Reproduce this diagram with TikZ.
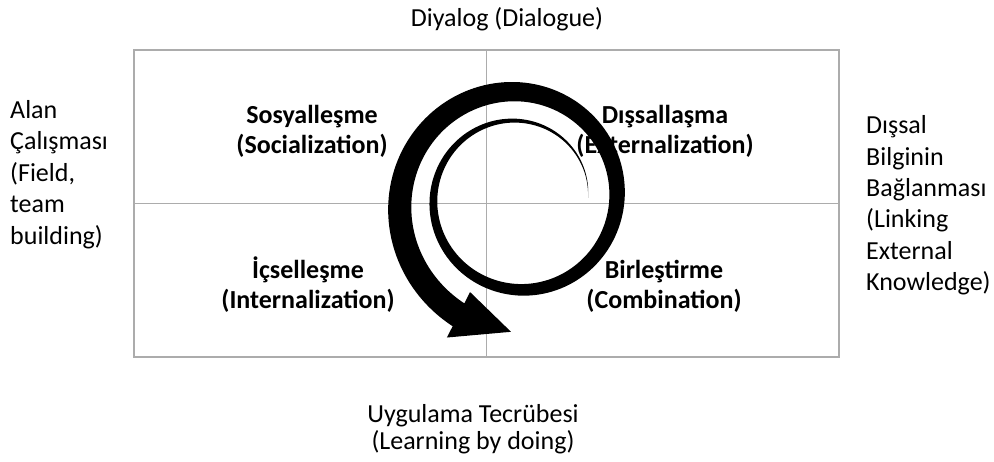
\documentclass[tikz,border=0pt]{standalone}
\usepackage{fontspec}
\setmainfont{Carlito}
\usetikzlibrary{positioning, calc}

\begin{document}
\begin{tikzpicture}[
  x=1pt, y=1pt,
  frame/.style={draw=gray!65, line width=1.6pt},
  side/.style={inner sep=0pt, align=left, font=\fontsize{26}{31.4}\selectfont},
  axis/.style={inner sep=0pt, align=center, font=\fontsize{26}{27}\selectfont},
  quad/.style={inner sep=0pt, align=center, font=\fontsize{26}{30}\selectfont\bfseries},
  swirl/.style={fill=black, draw=none},
  declare function={
    sprad(\t)=70+0.0806*\t+(\t>450)*((\t-450)/100)^2*5.34;
    spwid(\t)=0.0426*\t;
  }
]
\useasboundingbox (0,0) rectangle (994,462);

% --- matrix frame ---
\coordinate (nw) at (134,412);
\coordinate (se) at (839,105);
\coordinate (mid) at (486.5,258.5);
\draw[frame] (nw) rectangle (se);
\draw[frame] (mid |- nw) -- (mid |- se);
\draw[frame] (mid -| nw) -- (mid -| se);

% --- outer labels ---
\node[axis, anchor=base] (dia) at (507,435) {Diyalog (Dialogue)};
\node[axis] (doing) at (473,33) {Uygulama Tecrübesi\\(Learning by doing)};
\node[side, anchor=west] (field) at (10,287.5) {Alan\\Çalışması\\(Field,\\team\\building)};
\node[side, anchor=west] (link) at (866,256.5) {Dışsal\\Bilginin\\Bağlanması\\(Linking\\External\\Knowledge)};

% --- quadrants ---
\node[quad] (soc) at (312,331) {Sosyalleşme\\(Socialization)};
\node[quad] (ext) at (665,331) {Dışsallaşma\\(Externalization)};
\node[quad] (int) at (308,177.5) {İçselleşme\\(Internalization)};
\node[quad] (comb) at (664,176) {Birleştirme\\(Combination)};

% --- spiral arrow ---
\coordinate (sc) at (518,264);
\fill[swirl] plot[domain=0:603, samples=240]
    ({518+(sprad(\x)+spwid(\x)/2)*cos(\x)}, {264+(sprad(\x)+spwid(\x)/2)*sin(\x)})
  -- ($(sc)+(603:156.6)$) -- ($(sc)+(627:134)$) -- ($(sc)+(603:105.6)$)
  -- plot[domain=603:0, samples=240]
    ({518+(sprad(\x)-spwid(\x)/2)*cos(\x)}, {264+(sprad(\x)-spwid(\x)/2)*sin(\x)})
  -- cycle;
\end{tikzpicture}
\end{document}
